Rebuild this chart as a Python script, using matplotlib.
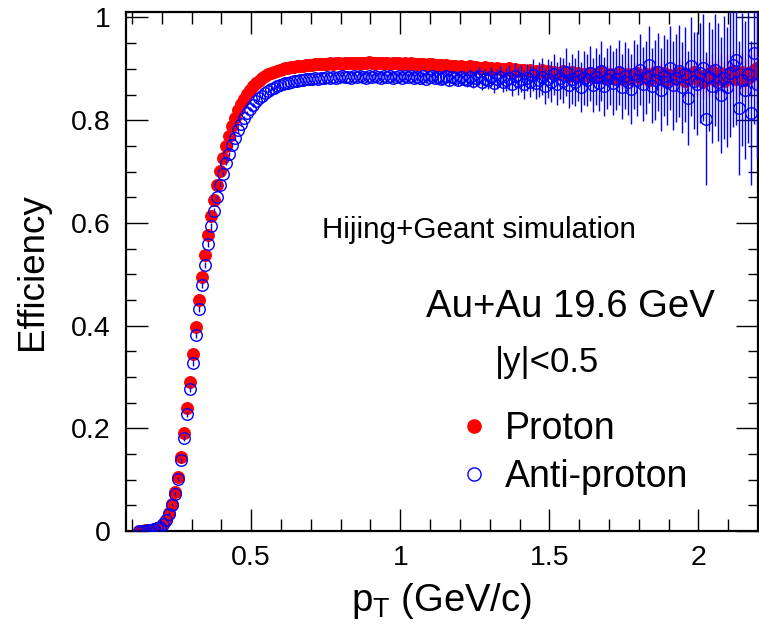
import matplotlib
matplotlib.use("Agg")
import matplotlib.pyplot as plt
from matplotlib.lines import Line2D
from matplotlib.ticker import MultipleLocator, FixedLocator, FuncFormatter

plt.rcParams['font.family'] = ['Liberation Sans', 'DejaVu Sans']
plt.rcParams['mathtext.fontset'] = 'custom'
plt.rcParams['mathtext.rm'] = 'Liberation Sans'
plt.rcParams['mathtext.it'] = 'Liberation Sans:italic'

# bin centres in GeV/c
pt = [
    0.125, 0.135, 0.145, 0.155, 0.165, 0.175, 0.185, 0.195, 0.205, 0.215,
    0.225, 0.235, 0.245, 0.255, 0.265, 0.275, 0.285, 0.295, 0.305, 0.315,
    0.325, 0.335, 0.345, 0.355, 0.365, 0.375, 0.385, 0.395, 0.405, 0.415,
    0.425, 0.435, 0.445, 0.455, 0.465, 0.475, 0.485, 0.495, 0.505, 0.515,
    0.525, 0.535, 0.545, 0.555, 0.565, 0.575, 0.585, 0.595, 0.605, 0.615,
    0.625, 0.635, 0.645, 0.655, 0.665, 0.675, 0.685, 0.695, 0.705, 0.715,
    0.725, 0.735, 0.745, 0.755, 0.765, 0.775, 0.785, 0.795, 0.805, 0.815,
    0.825, 0.835, 0.845, 0.855, 0.865, 0.875, 0.885, 0.895, 0.905, 0.915,
    0.925, 0.935, 0.945, 0.955, 0.965, 0.975, 0.985, 0.995, 1.005, 1.015,
    1.025, 1.035, 1.045, 1.055, 1.065, 1.075, 1.085, 1.095, 1.105, 1.115,
    1.125, 1.135, 1.145, 1.155, 1.165, 1.175, 1.185, 1.195, 1.205, 1.215,
    1.225, 1.235, 1.245, 1.255, 1.265, 1.275, 1.285, 1.295, 1.305, 1.315,
    1.325, 1.335, 1.345, 1.355, 1.365, 1.375, 1.385, 1.395, 1.405, 1.415,
    1.425, 1.435, 1.445, 1.455, 1.465, 1.475, 1.485, 1.495, 1.505, 1.515,
    1.525, 1.535, 1.545, 1.555, 1.565, 1.575, 1.585, 1.595, 1.605, 1.615,
    1.625, 1.635, 1.645, 1.655, 1.665, 1.675, 1.685, 1.695, 1.705, 1.715,
    1.725, 1.735, 1.745, 1.755, 1.765, 1.775, 1.785, 1.795, 1.805, 1.815,
    1.825, 1.835, 1.845, 1.855, 1.865, 1.875, 1.885, 1.895, 1.905, 1.915,
    1.925, 1.935, 1.945, 1.955, 1.965, 1.975, 1.985, 1.995, 2.005, 2.015,
    2.025, 2.035, 2.045, 2.055, 2.065, 2.075, 2.085, 2.095, 2.105, 2.115,
    2.125, 2.135, 2.145, 2.155, 2.165, 2.175, 2.185, 2.195,
]

eff_proton = [
    0.000, 0.000, 0.001, 0.001, 0.002, 0.003, 0.005, 0.008, 0.013, 0.022,
    0.035, 0.053, 0.076, 0.106, 0.144, 0.190, 0.239, 0.291, 0.344, 0.398,
    0.450, 0.494, 0.538, 0.576, 0.613, 0.644, 0.674, 0.701, 0.726, 0.750,
    0.770, 0.788, 0.805, 0.819, 0.831, 0.842, 0.851, 0.859, 0.866, 0.872,
    0.877, 0.882, 0.886, 0.889, 0.892, 0.894, 0.896, 0.898, 0.899, 0.901,
    0.902, 0.903, 0.904, 0.905, 0.906, 0.906, 0.907, 0.908, 0.908, 0.909,
    0.909, 0.910, 0.909, 0.910, 0.911, 0.910, 0.911, 0.911, 0.910, 0.911,
    0.912, 0.911, 0.912, 0.911, 0.912, 0.911, 0.912, 0.913, 0.911, 0.912,
    0.911, 0.912, 0.911, 0.912, 0.910, 0.911, 0.912, 0.911, 0.910, 0.911,
    0.910, 0.911, 0.909, 0.910, 0.910, 0.909, 0.908, 0.910, 0.909, 0.908,
    0.907, 0.908, 0.906, 0.907, 0.906, 0.905, 0.906, 0.904, 0.905, 0.904,
    0.903, 0.905, 0.902, 0.904, 0.902, 0.901, 0.903, 0.900, 0.902, 0.900,
    0.901, 0.899, 0.900, 0.898, 0.901, 0.897, 0.899, 0.896, 0.898, 0.897,
    0.895, 0.898, 0.894, 0.896, 0.893, 0.897, 0.892, 0.895, 0.891, 0.894,
    0.892, 0.889, 0.895, 0.890, 0.887, 0.893, 0.888, 0.891, 0.885, 0.890,
    0.888, 0.892, 0.884, 0.889, 0.886, 0.893, 0.883, 0.888, 0.890, 0.882,
    0.887, 0.891, 0.881, 0.886, 0.889, 0.880, 0.888, 0.892, 0.883, 0.885,
    0.890, 0.879, 0.887, 0.893, 0.882, 0.885, 0.891, 0.878, 0.888, 0.884,
    0.881, 0.892, 0.886, 0.877, 0.889, 0.883, 0.894, 0.880, 0.887, 0.875,
    0.888, 0.882, 0.895, 0.879, 0.885, 0.891, 0.877, 0.889, 0.883, 0.896,
    0.880, 0.888, 0.893, 0.878, 0.891, 0.886, 0.897, 0.901,
]

err_proton = [
    0.000, 0.000, 0.001, 0.001, 0.001, 0.001, 0.001, 0.001, 0.001, 0.001,
    0.002, 0.002, 0.002, 0.002, 0.002, 0.002, 0.002, 0.002, 0.002, 0.002,
    0.002, 0.002, 0.002, 0.002, 0.002, 0.002, 0.002, 0.002, 0.002, 0.002,
    0.002, 0.002, 0.002, 0.002, 0.002, 0.002, 0.002, 0.002, 0.002, 0.002,
    0.002, 0.002, 0.002, 0.002, 0.002, 0.002, 0.002, 0.002, 0.002, 0.002,
    0.002, 0.002, 0.002, 0.002, 0.002, 0.002, 0.002, 0.002, 0.002, 0.002,
    0.002, 0.002, 0.002, 0.002, 0.002, 0.002, 0.002, 0.002, 0.002, 0.002,
    0.002, 0.002, 0.002, 0.002, 0.002, 0.002, 0.002, 0.002, 0.002, 0.002,
    0.002, 0.002, 0.002, 0.002, 0.002, 0.002, 0.002, 0.002, 0.002, 0.002,
    0.002, 0.002, 0.003, 0.002, 0.003, 0.003, 0.003, 0.003, 0.003, 0.003,
    0.003, 0.004, 0.003, 0.004, 0.004, 0.004, 0.004, 0.005, 0.004, 0.005,
    0.005, 0.005, 0.005, 0.006, 0.005, 0.006, 0.006, 0.006, 0.007, 0.006,
    0.007, 0.007, 0.007, 0.008, 0.007, 0.008, 0.008, 0.009, 0.008, 0.009,
    0.009, 0.010, 0.009, 0.010, 0.011, 0.010, 0.011, 0.012, 0.011, 0.012,
    0.012, 0.013, 0.012, 0.014, 0.013, 0.014, 0.015, 0.014, 0.015, 0.016,
    0.015, 0.016, 0.017, 0.016, 0.018, 0.017, 0.018, 0.019, 0.018, 0.020,
    0.019, 0.020, 0.021, 0.020, 0.022, 0.021, 0.023, 0.022, 0.024, 0.023,
    0.024, 0.025, 0.024, 0.026, 0.025, 0.027, 0.026, 0.028, 0.027, 0.029,
    0.028, 0.030, 0.029, 0.031, 0.030, 0.032, 0.031, 0.033, 0.032, 0.034,
    0.033, 0.035, 0.034, 0.036, 0.035, 0.037, 0.036, 0.038, 0.037, 0.039,
    0.038, 0.040, 0.039, 0.041, 0.040, 0.042, 0.041, 0.043,
]

eff_antiproton = [
    0.000, 0.000, 0.000, 0.001, 0.002, 0.003, 0.005, 0.008, 0.013, 0.021,
    0.034, 0.051, 0.073, 0.102, 0.138, 0.181, 0.227, 0.276, 0.327, 0.381,
    0.433, 0.479, 0.518, 0.559, 0.593, 0.624, 0.650, 0.674, 0.696, 0.717,
    0.735, 0.751, 0.766, 0.780, 0.792, 0.804, 0.814, 0.822, 0.830, 0.837,
    0.843, 0.848, 0.853, 0.857, 0.860, 0.863, 0.866, 0.868, 0.870, 0.872,
    0.873, 0.875, 0.876, 0.877, 0.878, 0.879, 0.880, 0.880, 0.881, 0.882,
    0.881, 0.883, 0.882, 0.884, 0.883, 0.885, 0.883, 0.884, 0.886, 0.884,
    0.885, 0.883, 0.886, 0.884, 0.887, 0.885, 0.883, 0.886, 0.884, 0.887,
    0.885, 0.883, 0.887, 0.884, 0.886, 0.882, 0.885, 0.887, 0.883, 0.886,
    0.884, 0.887, 0.882, 0.885, 0.883, 0.886, 0.881, 0.884, 0.887, 0.882,
    0.885, 0.880, 0.883, 0.886, 0.879, 0.884, 0.882, 0.878, 0.885, 0.881,
    0.879, 0.884, 0.877, 0.882, 0.886, 0.875, 0.881, 0.878, 0.884, 0.873,
    0.880, 0.885, 0.874, 0.879, 0.883, 0.871, 0.887, 0.876, 0.881, 0.870,
    0.883, 0.875, 0.888, 0.872, 0.879, 0.885, 0.867, 0.881, 0.875, 0.889,
    0.871, 0.883, 0.877, 0.894, 0.868, 0.880, 0.875, 0.887, 0.864, 0.882,
    0.878, 0.891, 0.869, 0.885, 0.873, 0.896, 0.866, 0.881, 0.888, 0.872,
    0.880, 0.893, 0.865, 0.887, 0.875, 0.861, 0.889, 0.878, 0.898, 0.871,
    0.884, 0.908, 0.867, 0.879, 0.893, 0.859, 0.887, 0.875, 0.902, 0.868,
    0.882, 0.896, 0.864, 0.889, 0.843, 0.905, 0.877, 0.871, 0.892, 0.902,
    0.803, 0.885, 0.867, 0.898, 0.875, 0.849, 0.883, 0.865, 0.891, 0.908,
    0.917, 0.824, 0.879, 0.859, 0.889, 0.814, 0.930, 0.871,
]

err_antiproton = [
    0.000, 0.000, 0.000, 0.001, 0.001, 0.001, 0.001, 0.002, 0.002, 0.002,
    0.003, 0.003, 0.004, 0.004, 0.005, 0.005, 0.005, 0.006, 0.006, 0.006,
    0.006, 0.006, 0.006, 0.006, 0.006, 0.005, 0.005, 0.005, 0.005, 0.005,
    0.004, 0.004, 0.004, 0.004, 0.004, 0.004, 0.004, 0.004, 0.004, 0.004,
    0.004, 0.004, 0.004, 0.004, 0.004, 0.004, 0.004, 0.004, 0.004, 0.004,
    0.003, 0.003, 0.003, 0.003, 0.003, 0.003, 0.003, 0.003, 0.003, 0.003,
    0.003, 0.003, 0.003, 0.003, 0.003, 0.003, 0.003, 0.003, 0.003, 0.003,
    0.003, 0.003, 0.004, 0.004, 0.004, 0.004, 0.004, 0.004, 0.005, 0.005,
    0.005, 0.005, 0.005, 0.005, 0.006, 0.006, 0.006, 0.006, 0.006, 0.007,
    0.007, 0.007, 0.007, 0.008, 0.008, 0.008, 0.009, 0.008, 0.009, 0.010,
    0.010, 0.010, 0.011, 0.011, 0.012, 0.011, 0.013, 0.012, 0.013, 0.014,
    0.014, 0.015, 0.014, 0.016, 0.017, 0.016, 0.018, 0.017, 0.019, 0.020,
    0.019, 0.021, 0.020, 0.022, 0.024, 0.023, 0.025, 0.027, 0.026, 0.028,
    0.027, 0.030, 0.032, 0.031, 0.034, 0.036, 0.035, 0.038, 0.040, 0.039,
    0.042, 0.041, 0.044, 0.046, 0.045, 0.048, 0.047, 0.050, 0.049, 0.052,
    0.051, 0.054, 0.053, 0.056, 0.055, 0.058, 0.057, 0.060, 0.059, 0.062,
    0.061, 0.064, 0.063, 0.066, 0.065, 0.068, 0.067, 0.070, 0.069, 0.072,
    0.071, 0.075, 0.073, 0.078, 0.076, 0.081, 0.079, 0.084, 0.082, 0.087,
    0.085, 0.090, 0.088, 0.093, 0.091, 0.096, 0.094, 0.100, 0.098, 0.104,
    0.130, 0.106, 0.111, 0.109, 0.115, 0.113, 0.119, 0.117, 0.123, 0.121,
    0.126, 0.131, 0.129, 0.135, 0.133, 0.140, 0.137, 0.145,
]

x_ticks = [0.5, 1.0, 1.5, 2.0]
y_ticks = [0, 0.2, 0.4, 0.6, 0.8, 1.0]

fig = plt.figure(figsize=(7.59, 6.25), dpi=100)
ax = fig.add_axes([126 / 759, 94 / 625, 632 / 759, 519 / 625])

ax.errorbar(pt, eff_proton, yerr=err_proton, fmt='o', ms=8.3, color='red',
            mec='red', mfc='red', ecolor='#ff3030', elinewidth=1.0, capsize=0,
            zorder=2)
ax.errorbar(pt, eff_antiproton, yerr=err_antiproton, fmt='o', ms=8.3,
            mfc='none', mec='blue', mew=1.0, ecolor='blue', elinewidth=1.0,
            capsize=0, zorder=3)

ax.set_xlim(0.08, 2.2)
ax.set_ylim(0, 1.0107)

ax.xaxis.set_major_locator(FixedLocator(x_ticks))
ax.xaxis.set_minor_locator(MultipleLocator(0.1))
ax.yaxis.set_major_locator(FixedLocator(y_ticks))
ax.yaxis.set_minor_locator(MultipleLocator(0.05))
fmt = FuncFormatter(lambda v, p: f"{v:g}")
ax.xaxis.set_major_formatter(fmt)
ax.yaxis.set_major_formatter(fmt)

ax.tick_params(which='both', direction='in', top=True, right=True,
               width=1.0, colors='black', labelsize=20.5)
ax.tick_params(axis='x', which='major', length=16, pad=10)
ax.tick_params(axis='x', which='minor', length=8.5)
ax.tick_params(axis='y', which='major', length=16, pad=11)
ax.tick_params(axis='y', which='minor', length=7.5)
for s in ax.spines.values():
    s.set_linewidth(1.6)

ax.set_xlabel(r"p$_{\mathregular{T}}$ (GeV/c)", fontsize=27.5, labelpad=7)
ax.set_ylabel("Efficiency", fontsize=26.5, labelpad=15)

ax.text(1.264, 0.5706, "Hijing+Geant simulation", fontsize=21.3,
        ha='center', va='baseline')
ax.text(1.571, 0.4167, "Au+Au 19.6 GeV", fontsize=27.6, ha='center',
        va='baseline')
ax.text(1.491, 0.3096, "|y|<0.5", fontsize=25, ha='center', va='baseline')

handles = [
    Line2D([], [], ls='none', marker='o', ms=9.5, color='red'),
    Line2D([], [], ls='none', marker='o', ms=9.5, mfc='none', mec='blue',
           mew=1.0),
]
ax.legend(handles, ["Proton", "Anti-proton"], loc='center left',
          bbox_to_anchor=(0.5335, 0.150), frameon=False, fontsize=27,
          handlelength=0.6, handletextpad=0.5, labelspacing=0.33,
          borderpad=0, borderaxespad=0)

fig.savefig("out.png", dpi=100)
